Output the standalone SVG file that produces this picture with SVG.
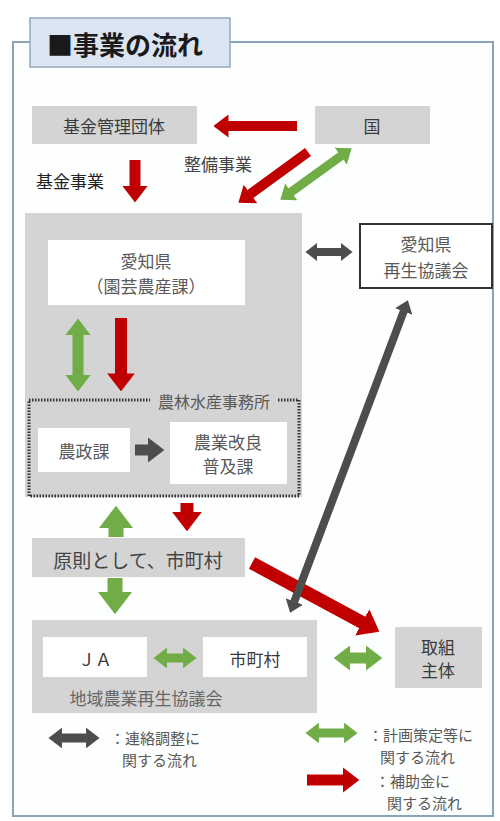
<svg xmlns="http://www.w3.org/2000/svg" width="500" height="821" viewBox="0 0 500 821">
<style>
.t{font-family:"Noto Sans CJK JP","Noto Sans",sans-serif;font-size:17px;fill:#3a3a3a;text-anchor:middle;dominant-baseline:central}
.s{fill:#595959}
.lg{font-size:15px;text-anchor:start}
.gb{fill:#d4d4d4}
.wb{fill:#ffffff}
.r{stroke:#c00000;fill:none}
.g{stroke:#70ad47;fill:none}
.d{stroke:#4d4d4d;fill:none}
</style>
<defs>
<marker id="mr" viewBox="0 0 1.5 2.3" refX="0.05" refY="1.15" markerWidth="1.5" markerHeight="2.3" orient="auto-start-reverse" markerUnits="strokeWidth"><path d="M0,0L1.5,1.15L0,2.3z" fill="#c00000"/></marker>
<marker id="mg" viewBox="0 0 1.5 2.3" refX="0.05" refY="1.15" markerWidth="1.5" markerHeight="2.3" orient="auto-start-reverse" markerUnits="strokeWidth"><path d="M0,0L1.5,1.15L0,2.3z" fill="#70ad47"/></marker>
<marker id="md" viewBox="0 0 1.5 2.3" refX="0.05" refY="1.15" markerWidth="1.5" markerHeight="2.3" orient="auto-start-reverse" markerUnits="strokeWidth"><path d="M0,0L1.5,1.15L0,2.3z" fill="#4d4d4d"/></marker>
</defs>
<rect width="500" height="821" fill="#ffffff"/>
<g id="frame">
<rect x="13" y="42" width="480" height="774" fill="#fdfefe" stroke="#8aa3b8" stroke-width="2"/>
<rect x="30" y="18" width="200" height="49" fill="#dbe5f1" stroke="#8ea9c1" stroke-width="1.5"/>
<text x="47" y="43" class="t" style="font-size:26px;font-weight:bold;fill:#1a1a1a;text-anchor:start">■事業の流れ</text>
</g>
<g id="kikin">
<rect x="32" y="106" width="165" height="38" class="gb"/>
<text x="114" y="125" class="t">基金管理団体</text>
</g>
<g id="kuni">
<rect x="315" y="106" width="115" height="38" class="gb"/>
<text x="372" y="125" class="t">国</text>
</g>
<g id="labels">
<text x="70" y="180" class="t" style="fill:#222">基金事業</text>
<text x="218" y="163" class="t" style="fill:#444">整備事業</text>
</g>
<g id="aichi-area">
<rect x="25" y="213" width="277" height="284" class="gb"/>
</g>
<g id="aichi">
<rect x="48" y="240" width="197" height="65" class="wb"/>
<text class="t s"><tspan x="146" y="260">愛知県</tspan><tspan x="146" y="285">（園芸農産課）</tspan></text>
</g>
<g id="kyogikai">
<rect x="360" y="224" width="132" height="64" fill="#ffffff" stroke="#333" stroke-width="2"/>
<text class="t s"><tspan x="426" y="243">愛知県</tspan><tspan x="426" y="269">再生協議会</tspan></text>
</g>
<g id="jimusho">
<rect x="29" y="400" width="270" height="96" fill="none" stroke="#333" stroke-width="3" stroke-dasharray="1.5 1.5"/>
<rect x="150" y="392" width="128" height="18" class="gb"/>
<text x="214" y="401" class="t s" style="font-size:16px">農林水産事務所</text>
</g>
<g id="nosei">
<rect x="38" y="428" width="92" height="44" class="wb"/>
<text x="84" y="450" class="t s">農政課</text>
</g>
<g id="fukyu">
<rect x="170" y="422" width="117" height="62" class="wb"/>
<text class="t s"><tspan x="228" y="441">農業改良</tspan><tspan x="228" y="465">普及課</tspan></text>
</g>
<g id="shichoson-gensoku">
<rect x="32" y="538" width="213" height="39" class="gb"/>
<text x="138" y="559" class="t" style="font-size:19px;fill:#444">原則として、市町村</text>
</g>
<g id="chiiki">
<rect x="32" y="620" width="285" height="93" class="gb"/>
<text x="146" y="697" class="t" style="fill:#666">地域農業再生協議会</text>
</g>
<g id="ja">
<rect x="43" y="637" width="104" height="40" class="wb"/>
<text x="95" y="658" class="t">ＪＡ</text>
</g>
<g id="shichoson">
<rect x="203" y="637" width="104" height="40" class="wb"/>
<text x="255" y="658" class="t">市町村</text>
</g>
<g id="torikumi">
<rect x="395" y="627" width="87" height="61" class="gb"/>
<text class="t"><tspan x="438" y="646">取組</tspan><tspan x="438" y="669">主体</tspan></text>
</g>
<g id="connectors">
<line x1="297" y1="126" x2="228" y2="126" class="r" stroke-width="10" marker-end="url(#mr)"/>
<line x1="135" y1="160" x2="135" y2="186.5" class="r" stroke-width="11" marker-end="url(#mr)"/>
<line x1="308" y1="152" x2="250.1" y2="194.2" class="r" stroke-width="10" marker-end="url(#mr)"/>
<line x1="341.1" y1="155.9" x2="290.9" y2="192.1" class="g" stroke-width="9" marker-start="url(#mg)" marker-end="url(#mg)"/>
<line x1="317" y1="252" x2="341" y2="252" class="d" stroke-width="8" marker-start="url(#md)" marker-end="url(#md)"/>
<line x1="78" y1="334.5" x2="78" y2="375.5" class="g" stroke-width="11" marker-start="url(#mg)" marker-end="url(#mg)"/>
<line x1="121" y1="318" x2="121" y2="374" class="r" stroke-width="12" marker-end="url(#mr)"/>
<line x1="135" y1="450" x2="148.5" y2="450" class="d" stroke-width="11" marker-end="url(#md)"/>
<line x1="116" y1="537" x2="116" y2="527.5" class="g" stroke-width="15" marker-end="url(#mg)"/>
<line x1="187" y1="503" x2="187" y2="512.5" class="r" stroke-width="13" marker-end="url(#mr)"/>
<line x1="115" y1="578" x2="115" y2="592.5" class="g" stroke-width="15" marker-end="url(#mg)"/>
<line x1="252" y1="563" x2="362.8" y2="622.75" class="r" stroke-width="13" marker-end="url(#mr)"/>
<line x1="294.2" y1="601.8" x2="403.8" y2="311.2" class="d" stroke-width="8" marker-start="url(#md)" marker-end="url(#md)"/>
<line x1="166.5" y1="658" x2="183.5" y2="658" class="g" stroke-width="9" marker-start="url(#mg)" marker-end="url(#mg)"/>
<line x1="349.5" y1="658" x2="366.5" y2="658" class="g" stroke-width="11" marker-start="url(#mg)" marker-end="url(#mg)"/>
</g>
<g id="legend">
<line x1="61.5" y1="738" x2="86.5" y2="738" class="d" stroke-width="9" marker-start="url(#md)" marker-end="url(#md)"/>
<text class="t s lg"><tspan x="110" y="737">：連絡調整に</tspan><tspan x="122" y="759">関する流れ</tspan></text>
<line x1="318.5" y1="733" x2="344.5" y2="733" class="g" stroke-width="9" marker-start="url(#mg)" marker-end="url(#mg)"/>
<text class="t s lg"><tspan x="368" y="734">：計画策定等に</tspan><tspan x="380" y="756">関する流れ</tspan></text>
<line x1="307" y1="780" x2="343.5" y2="780" class="r" stroke-width="11" marker-end="url(#mr)"/>
<text class="t s lg"><tspan x="375" y="780">：補助金に</tspan><tspan x="387" y="802">関する流れ</tspan></text>
</g>
</svg>
